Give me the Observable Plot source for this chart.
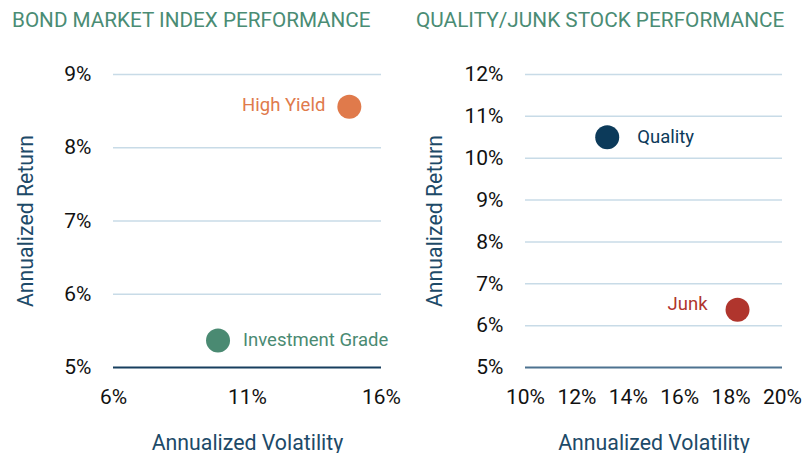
<!DOCTYPE html>
<html>
<head>
<meta charset="utf-8">
<script src="https://cdn.jsdelivr.net/npm/d3@7"></script>
<script src="https://cdn.jsdelivr.net/npm/@observablehq/plot@0.6"></script>
<style>
  html, body { margin: 0; padding: 0; background: #fff; }
  #wrap { display: flex; width: 802px; height: 453px; font-family: Roboto, sans-serif; }
  .panel { width: 401px; position: relative; }
  .title { height: 40px; color: #4a8c74; line-height: 40px; white-space: nowrap; }
  .panel svg { display: block; }
  .panel [aria-label="x-axis label"] text, .panel [aria-label="y-axis label"] text { fill: #1d4a68; font-size: 21.3px; }
</style>
</head>
<body>
<div id="wrap">
  <div class="panel" id="left"><div class="title" style="padding-left:12px;font-size:20.7px">BOND MARKET INDEX PERFORMANCE</div></div>
  <div class="panel" id="right"><div class="title" style="padding-left:15px;font-size:20.8px">QUALITY/JUNK STOCK PERFORMANCE</div></div>
</div>
<script>
// Bond market index performance
const bondNames = ["High Yield", "Investment Grade"];
const bondVolatility = [14.8, 9.9];
const bondReturn = [8.56, 5.37];
const bondColors = ["#e07a4b", "#4a8a72"];
const bondXTicks = [6, 11, 16];
const bondYTicks = [5, 6, 7, 8, 9];

// Quality/Junk stock performance
const stockNames = ["Quality", "Junk"];
const stockVolatility = [13.18, 18.25];
const stockReturn = [10.5, 6.38];
const stockColors = ["#0c3a5a", "#b0352d"];
const stockXTicks = [10, 12, 14, 16, 18, 20];
const stockYTicks = [5, 6, 7, 8, 9, 10, 11, 12];

const bondData = bondNames.map((n, i) => ({name: n, vol: bondVolatility[i], ret: bondReturn[i], color: bondColors[i]}));
const stockData = stockNames.map((n, i) => ({name: n, vol: stockVolatility[i], ret: stockReturn[i], color: stockColors[i]}));

const pct = d => d + "%";

function makeChart({data, xTicks, yTicks, marginLeft, yLabelOffset, baseColor, labels}) {
  const grid = yTicks.filter(d => d !== yTicks[0]);
  const textMarks = labels.map(l => Plot.text(data.filter(d => d.name === l.name), {
    x: "vol", y: "ret", text: "name", fill: "color", fontSize: 18.5,
    textAnchor: l.anchor, dx: l.dx, dy: l.dy
  }));
  return Plot.plot({
    width: 401,
    height: 413,
    marginLeft,
    marginRight: 20,
    marginTop: 34,
    marginBottom: 86,
    style: {fontFamily: "Roboto, sans-serif", fontSize: "21px", color: "#111", background: "transparent", overflow: "visible"},
    x: {domain: d3.extent(xTicks)},
    y: {domain: d3.extent(yTicks)},
    marks: [
      Plot.ruleY(grid, {stroke: "#c8dbe7", strokeWidth: 1.5}),
      Plot.ruleY([yTicks[0]], {stroke: baseColor, strokeWidth: 2}),
      Plot.axisX({ticks: xTicks, tickFormat: pct, tickSize: 0, tickPadding: 22, label: "Annualized Volatility", labelAnchor: "center", labelArrow: "none", labelOffset: 82, fill: "#111", fontSize: 21}),
      Plot.axisY({ticks: yTicks, tickFormat: pct, tickSize: 0, tickPadding: 22, label: "Annualized Return", labelAnchor: "center", labelArrow: "none", labelOffset: yLabelOffset, fill: "#111", fontSize: 21}),
      Plot.dot(data, {x: "vol", y: "ret", r: 12, fill: "color", stroke: "none"}),
      ...textMarks
    ]
  });
}

document.getElementById("left").appendChild(makeChart({
  data: bondData, xTicks: bondXTicks, yTicks: bondYTicks, marginLeft: 113, yLabelOffset: 96, baseColor: "#173f5f",
  labels: [
    {name: "High Yield", anchor: "end", dx: -24, dy: -2},
    {name: "Investment Grade", anchor: "start", dx: 25, dy: 0}
  ]
}));
document.getElementById("right").appendChild(makeChart({
  data: stockData, xTicks: stockXTicks, yTicks: stockYTicks, marginLeft: 124, yLabelOffset: 99, baseColor: "#4d7290",
  labels: [
    {name: "Quality", anchor: "start", dx: 30, dy: 0},
    {name: "Junk", anchor: "end", dx: -30, dy: -6}
  ]
}));
</script>
</body>
</html>
